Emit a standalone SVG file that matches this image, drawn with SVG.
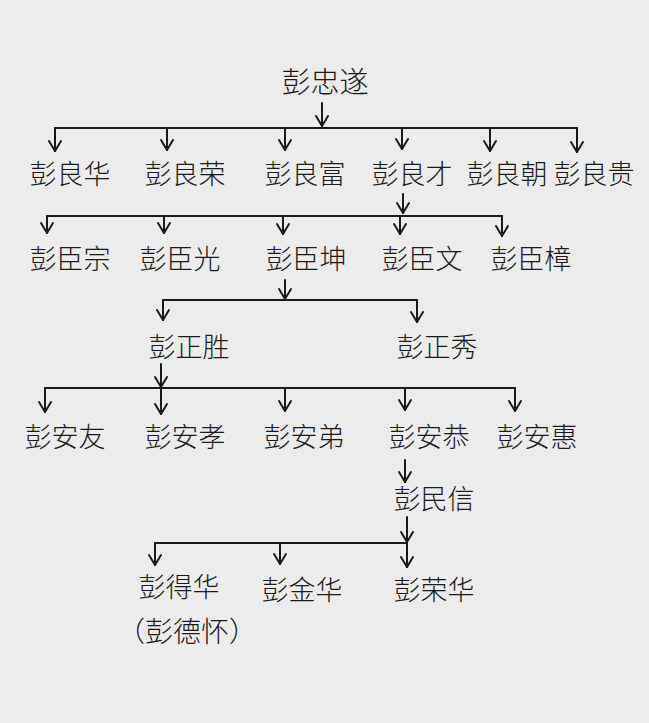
<svg xmlns="http://www.w3.org/2000/svg" width="649" height="723" viewBox="0 0 649 723">
<defs>
<marker id="arr" markerUnits="userSpaceOnUse" markerWidth="20" markerHeight="20" refX="0" refY="0" viewBox="-12 -10 14 20" orient="auto" overflow="visible">
<path d="M-10,-6 L0,0 L-10,6" fill="none" stroke="#1a1a1a" stroke-width="2" stroke-linecap="round" stroke-linejoin="round"/>
</marker>
</defs>
<style>
.t{font-family:"Noto Sans CJK SC","Noto Sans CJK TC",sans-serif;font-size:27px;fill:#1a1a1a;text-anchor:middle;font-weight:300}
.big{font-size:29px}
.par{font-size:28px}
.c line,.c path{stroke:#1a1a1a;stroke-width:2;fill:none;stroke-linecap:round}
.a{marker-end:url(#arr)}
</style>
<rect width="649" height="723" fill="#ececec"/>
<g class="c" id="connectors">
<line class="a" x1="322" y1="103" x2="322" y2="126"/>
<line x1="55" y1="128" x2="577" y2="128"/>
<line class="a" x1="55" y1="128" x2="55" y2="151"/>
<line class="a" x1="167" y1="128" x2="167" y2="150"/>
<line class="a" x1="285" y1="128" x2="285" y2="150"/>
<line class="a" x1="402" y1="128" x2="402" y2="149"/>
<line class="a" x1="490" y1="128" x2="490" y2="151"/>
<line class="a" x1="577" y1="128" x2="577" y2="152"/>
<line class="a" x1="403" y1="194" x2="403" y2="213"/>
<line x1="47" y1="216" x2="502" y2="216"/>
<line class="a" x1="47" y1="216" x2="47" y2="233"/>
<line class="a" x1="164" y1="216" x2="164" y2="233"/>
<line class="a" x1="283" y1="216" x2="283" y2="234"/>
<line class="a" x1="400" y1="216" x2="400" y2="234"/>
<line class="a" x1="502" y1="216" x2="502" y2="236"/>
<line class="a" x1="285" y1="280" x2="285" y2="299"/>
<line x1="163" y1="300" x2="417" y2="300"/>
<line class="a" x1="163" y1="300" x2="163" y2="320"/>
<line class="a" x1="417" y1="300" x2="417" y2="322"/>
<line class="a" x1="161" y1="364" x2="161" y2="387"/>
<line x1="45" y1="388" x2="515" y2="388"/>
<line class="a" x1="45" y1="388" x2="45" y2="412"/>
<line class="a" x1="161" y1="388" x2="161" y2="414"/>
<line class="a" x1="285" y1="388" x2="285" y2="411"/>
<line class="a" x1="405" y1="388" x2="405" y2="410"/>
<line class="a" x1="515" y1="388" x2="515" y2="411"/>
<line class="a" x1="405" y1="460" x2="405" y2="482"/>
<line class="a" x1="407" y1="517" x2="407" y2="542"/>
<line x1="155" y1="543" x2="407" y2="543"/>
<line class="a" x1="155" y1="543" x2="155" y2="565"/>
<line class="a" x1="280" y1="543" x2="280" y2="564"/>
<line class="a" x1="407" y1="543" x2="407" y2="567"/>
</g>
<g id="n0"><text class="t big" x="325" y="93">彭忠遂</text></g>
<g id="n1"><text class="t" x="70" y="184">彭良华</text></g>
<g id="n2"><text class="t" x="185" y="184">彭良荣</text></g>
<g id="n3"><text class="t" x="305" y="184">彭良富</text></g>
<g id="n4"><text class="t" x="412" y="184">彭良才</text></g>
<g id="n5"><text class="t" x="507" y="184">彭良朝</text></g>
<g id="n6"><text class="t" x="594" y="184">彭良贵</text></g>
<g id="n7"><text class="t" x="70" y="269">彭臣宗</text></g>
<g id="n8"><text class="t" x="180" y="269">彭臣光</text></g>
<g id="n9"><text class="t" x="306" y="269">彭臣坤</text></g>
<g id="n10"><text class="t" x="422" y="269">彭臣文</text></g>
<g id="n11"><text class="t" x="531" y="269">彭臣樟</text></g>
<g id="n12"><text class="t" x="189" y="357">彭正胜</text></g>
<g id="n13"><text class="t" x="437" y="357">彭正秀</text></g>
<g id="n14"><text class="t" x="65" y="447">彭安友</text></g>
<g id="n15"><text class="t" x="185" y="447">彭安孝</text></g>
<g id="n16"><text class="t" x="304" y="447">彭安弟</text></g>
<g id="n17"><text class="t" x="429" y="447">彭安恭</text></g>
<g id="n18"><text class="t" x="537" y="447">彭安惠</text></g>
<g id="n19"><text class="t" x="434" y="509">彭民信</text></g>
<g id="n20"><text class="t" x="179" y="597">彭得华</text><text class="t par" x="187" y="642">（彭德怀）</text></g>
<g id="n21"><text class="t" x="302" y="600">彭金华</text></g>
<g id="n22"><text class="t" x="434" y="600">彭荣华</text></g>
</svg>
